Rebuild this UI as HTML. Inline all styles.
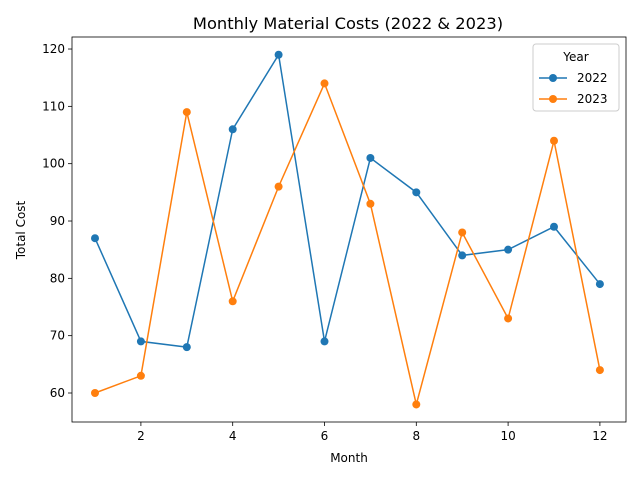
<!DOCTYPE html>
<html><head><meta charset="utf-8"><style>body{margin:0;background:#fff}svg{display:block;font-family:"DejaVu Sans","Liberation Sans",sans-serif}</style></head>
<body>
<svg id="chart" width="640" height="480"></svg>
<script>
const months=[1,2,3,4,5,6,7,8,9,10,11,12];
const cost2022=[87,69,68,106,119,69,101,95,84,85,89,79];
const cost2023=[60,63,109,76,96,114,93,58,88,73,104,64];
const xTicks=[2,4,6,8,10,12];
const yTicks=[60,70,80,90,100,110,120];
const seriesNames=["2022","2023"];
const NS="http://www.w3.org/2000/svg";
const svg=document.getElementById('chart');
const L=72,R=626,T=37,B=422;
function xs(v){return 95+(v-1)*45.9;}
function ys(v){return 393-(v-60)*5.733;}
function mk(tag,attrs,parent){const e=document.createElementNS(NS,tag);for(const k in attrs)e.setAttribute(k,attrs[k]);(parent||svg).appendChild(e);return e;}
let t=mk('text',{x:348,y:29,'text-anchor':'middle','font-size':16.3,fill:'#000'});t.textContent='Monthly Material Costs (2022 & 2023)';


for(const v of xTicks){const x=xs(v);
 const l=mk('line',{x1:x,x2:x,y1:B,y2:B+4,stroke:'#000','stroke-width':0.8});
 
 
 const tx=mk('text',{x:x,y:B+18,'text-anchor':'middle','font-size':12});tx.textContent=v;
 
 }
for(const v of yTicks){const y=ys(v);
 const l=mk('line',{x1:L-4,x2:L,y1:y,y2:y,stroke:'#000','stroke-width':0.8});
 
 
 const tx=mk('text',{x:L-7,y:y+4,'text-anchor':'end','font-size':12});tx.textContent=v;
 
 }
t=mk('text',{x:349,y:462,'text-anchor':'middle','font-size':12});t.textContent='Month';


t=mk('text',{x:25,y:230,'text-anchor':'middle','font-size':12,transform:'rotate(-90 25 230)'});t.textContent='Total Cost';


const colors=['#1f77b4','#ff7f0e'];
[cost2022,cost2023].forEach((vals,i)=>{
 const p=mk('polyline',{points:vals.map((v,j)=>xs(months[j])+','+ys(v)).join(' '),fill:'none',stroke:colors[i],'stroke-width':1.5});
 
 
 vals.forEach((v,j)=>{const c=mk('circle',{cx:xs(months[j]),cy:ys(v),r:4,fill:colors[i]});
  
  });
});
const fr=mk('rect',{x:L,y:T,width:R-L,height:B-T,fill:'none',stroke:'#000','stroke-width':0.8});


const g=mk('g',{});


mk('rect',{x:533,y:44,width:86,height:67,rx:3,fill:'#fff',stroke:'#ccc','stroke-width':1},g);
t=mk('text',{x:576,y:61,'text-anchor':'middle','font-size':12},g);t.textContent='Year';
seriesNames.forEach((n,i)=>{const y=78+i*21;
 const e=mk('g',{},g);
 
 
 mk('line',{x1:539,x2:567,y1:y,y2:y,stroke:colors[i],'stroke-width':1.5},e);
 mk('circle',{cx:553,cy:y,r:4,fill:colors[i]},e);
 const tx=mk('text',{x:577,y:y+4,'font-size':12},e);tx.textContent=n;});
</script>
</body></html>
